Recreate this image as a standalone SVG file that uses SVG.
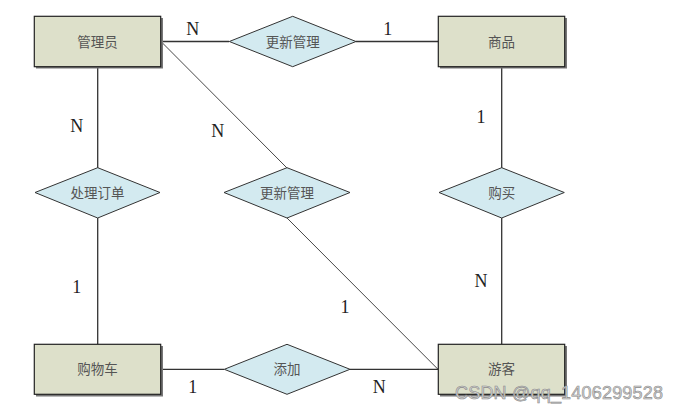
<svg xmlns="http://www.w3.org/2000/svg" width="680" height="412" viewBox="0 0 680 412">
<style>
.ent rect.sh{fill:#777;}
.ent rect.bx{fill:#dde0ca;stroke:#222;stroke-width:1.2;}
.rel polygon{fill:#d3eaf0;stroke:#333;stroke-width:1;}
.t{font-family:"Noto Sans CJK SC","Noto Sans CJK JP",sans-serif;font-size:13.5px;fill:#555;text-anchor:middle;}
.lab{font-family:"Liberation Serif","DejaVu Serif",serif;font-size:18px;fill:#222;text-anchor:middle;}
#connectors line{stroke:#333;stroke-width:1.3;}
#connectors line.d{stroke-width:0.9;}
</style>
<rect width="680" height="412" fill="#fff"/>
<g id="connectors">
<line x1="161" y1="41.5" x2="229" y2="41.5"/>
<line x1="356" y1="41.5" x2="438" y2="41.5"/>
<line class="d" x1="161" y1="41.5" x2="287" y2="168"/>
<line x1="97.7" y1="67" x2="97.7" y2="168"/>
<line x1="97.7" y1="218" x2="97.7" y2="344"/>
<line x1="501.7" y1="67" x2="501.7" y2="168"/>
<line x1="501.7" y1="218" x2="501.7" y2="344"/>
<line x1="161" y1="369.3" x2="224" y2="369.3"/>
<line x1="350" y1="369.3" x2="438" y2="369.3"/>
<line class="d" x1="287" y1="218" x2="438" y2="369.3"/>
</g>
<g id="labels">
<text class="lab" x="192.7" y="35">N</text>
<text class="lab" x="387.7" y="35">1</text>
<text class="lab" x="76.7" y="131.7">N</text>
<text class="lab" x="217.7" y="136.7">N</text>
<text class="lab" x="481" y="123">1</text>
<text class="lab" x="76.7" y="292.7">1</text>
<text class="lab" x="345" y="312.7">1</text>
<text class="lab" x="481" y="286.7">N</text>
<text class="lab" x="192.7" y="393.3">1</text>
<text class="lab" x="379.3" y="392.7">N</text>
</g>
<g id="admin" class="ent">
<rect class="sh" x="36" y="18" width="127" height="50.5"/>
<rect class="bx" x="34.3" y="16.3" width="126.4" height="50.4"/>
<text class="t" x="97.5" y="46.5">管理员</text>
</g>
<g id="goods" class="ent">
<rect class="sh" x="440" y="18" width="127" height="50.5"/>
<rect class="bx" x="438.3" y="16.3" width="126.4" height="50.4"/>
<text class="t" x="501.5" y="46.5">商品</text>
</g>
<g id="cart" class="ent">
<rect class="sh" x="36" y="346" width="127" height="50.5"/>
<rect class="bx" x="34.3" y="344.3" width="126.4" height="50"/>
<text class="t" x="97.5" y="374">购物车</text>
</g>
<g id="visitor" class="ent">
<rect class="sh" x="440" y="346" width="127" height="50.5"/>
<rect class="bx" x="438.3" y="344.3" width="126.4" height="50"/>
<text class="t" x="501.5" y="374">游客</text>
</g>
<g id="rel-update-top" class="rel">
<polygon points="229.3,41.5 292.7,16.3 356,41.5 292.7,66.7"/>
<text class="t" x="292.7" y="46.5">更新管理</text>
</g>
<g id="rel-order" class="rel">
<polygon points="35,192.5 97.7,167.7 160,192.5 97.7,218"/>
<text class="t" x="97.5" y="197.5">处理订单</text>
</g>
<g id="rel-update-mid" class="rel">
<polygon points="224,192.5 287,167.7 350,192.5 287,218"/>
<text class="t" x="287" y="197.5">更新管理</text>
</g>
<g id="rel-buy" class="rel">
<polygon points="439,192.5 501.7,167.7 564.3,192.5 501.7,218"/>
<text class="t" x="501.7" y="197.5">购买</text>
</g>
<g id="rel-add" class="rel">
<polygon points="224.3,369.3 287,344.3 350,369.3 287,394.3"/>
<text class="t" x="287" y="374">添加</text>
</g>
<text x="455" y="399" font-family="Liberation Sans, Arial, sans-serif" font-size="18" fill="#d4d4d4" stroke="#8a8a8a" stroke-width="0.6" textLength="208">CSDN @qq_1406299528</text>
</svg>
